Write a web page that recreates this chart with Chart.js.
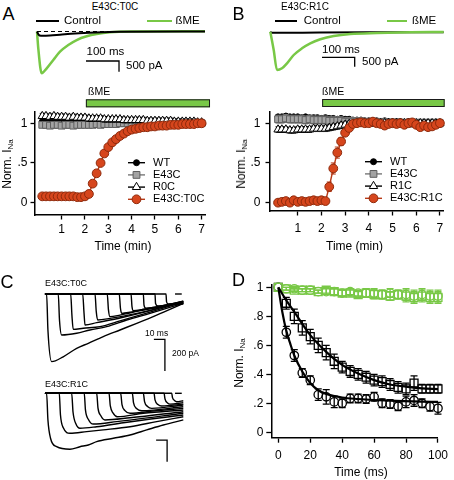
<!DOCTYPE html>
<html>
<head>
<meta charset="utf-8">
<script src="https://cdn.jsdelivr.net/npm/chart.js@4.4.1/dist/chart.umd.min.js"></script>
<style>
html, body { margin: 0; padding: 0; background: #fff; }
body { width: 454px; height: 480px; position: relative; overflow: hidden; font-family: 'Liberation Sans', Arial, Helvetica, sans-serif; color: #000; }
canvas { position: absolute; }
.t { position: absolute; white-space: nowrap; line-height: 1; font-size: 12px; }
.c { transform: translate(-50%, -50%); }
.l { transform: translateY(-50%); }
.yt { transform: translate(-50%, -50%) rotate(-90deg); }
.big { font-size: 18px; }
sub { font-size: 8px; vertical-align: -2px; line-height: 0; }
.ln { position: absolute; height: 2.4px; }
</style>
</head>
<body>
<canvas id="trA" width="180" height="60" style="left:30px;top:22px"></canvas>
<canvas id="trB" width="190" height="60" style="left:262px;top:22px"></canvas>
<canvas id="courseA" width="227" height="175" style="left:0;top:80px"></canvas>
<canvas id="courseB" width="227" height="175" style="left:227px;top:80px"></canvas>
<canvas id="sweepsT0C" width="150" height="90" style="left:40px;top:285px"></canvas>
<canvas id="sweepsR1C" width="150" height="85" style="left:40px;top:385px"></canvas>
<canvas id="decay" width="227" height="215" style="left:227px;top:265px"></canvas>

<!-- panel A, top -->
<div class="t c big" style="left:8.5px;top:13.5px">A</div>
<div class="t c" style="left:115px;top:7px;font-size:10px">E43C:T0C</div>
<div class="ln" style="left:36px;top:19.5px;width:23px;background:#000"></div>
<div class="t l" style="left:64px;top:20.5px;font-size:11.5px">Control</div>
<div class="ln" style="left:147px;top:19.5px;width:25px;background:#78c846"></div>
<div class="t l" style="left:175.5px;top:20.5px;font-size:11.5px">ßME</div>
<div class="t l" style="left:86.5px;top:51.7px;font-size:11.5px">100 ms</div>
<div class="t l" style="left:126px;top:65.5px;font-size:11.5px">500 pA</div>
<div class="t l" style="left:88px;top:91px;font-size:10.5px">ßME</div>
<div class="t yt" style="left:7px;top:164px">Norm. I<sub>Na</sub></div>
<div class="t c" style="left:123px;top:246px">Time (min)</div>

<!-- panel B, top -->
<div class="t c big" style="left:238.5px;top:13.5px">B</div>
<div class="t c" style="left:305px;top:7px;font-size:10px">E43C:R1C</div>
<div class="ln" style="left:275px;top:19.5px;width:22px;background:#000"></div>
<div class="t l" style="left:303.7px;top:20.5px;font-size:11.5px">Control</div>
<div class="ln" style="left:387px;top:19.5px;width:20px;background:#78c846"></div>
<div class="t l" style="left:412px;top:20.5px;font-size:11.5px">ßME</div>
<div class="t l" style="left:322px;top:50px;font-size:11.5px">100 ms</div>
<div class="t l" style="left:362px;top:61.7px;font-size:11.5px">500 pA</div>
<div class="t l" style="left:322px;top:91px;font-size:10.5px">ßME</div>
<div class="t yt" style="left:241px;top:164px">Norm. I<sub>Na</sub></div>
<div class="t c" style="left:354.5px;top:246px">Time (min)</div>

<!-- panel C -->
<div class="t c big" style="left:7px;top:282px">C</div>
<div class="t l" style="left:45px;top:282.5px;font-size:9px">E43C:T0C</div>
<div class="t l" style="left:45px;top:383.5px;font-size:9px">E43C:R1C</div>
<div class="t l" style="left:145px;top:332.5px;font-size:8.5px">10 ms</div>
<div class="t l" style="left:172px;top:352.5px;font-size:8.5px">200 pA</div>

<!-- panel D -->
<div class="t c big" style="left:238.5px;top:280px">D</div>
<div class="t yt" style="left:239px;top:363px">Norm. I<sub>Na</sub></div>
<div class="t c" style="left:361px;top:471.7px">Time (ms)</div>

<script>
// ---- top traces (ms, pA) ----
const ctrlA_t = [0, 4.5, 12.1, 39.4, 69.7, 115, 176, 251.5, 509];
const ctrlA_i = [0, -140, -196, -187, -149, -93, -47, -14, 0];
const bmeA_t = [0, 3.9, 14.2, 29.4, 49.4, 69.7, 94.8, 120.3, 150.6, 180.9, 221.2, 281.8, 509];
const bmeA_i = [0, -785, -1952, -1719, -1331, -943, -630, -397, -224, -117, -37, 0, 10];
const zeroA_t = [0, 509];
const barA_t = [148.5, 248.5, 248.5];
const barA_i = [-1378, -1378, -1878];

const ctrlB_t = [0, 3, 20, 150, 300, 530];
const ctrlB_i = [0, -60, -60, -45, -35, -25];
const bmeB_t = [0, 10.4, 20.5, 35.8, 51.1, 71.6, 96.9, 122.3, 152.9, 193.9, 244.6, 326.3, 428.1, 530.3];
const bmeB_i = [0, -970, -2030, -1940, -1675, -1235, -880, -615, -403, -228, -122, -69, -32, -16];
const barB_t = [158.1, 258.1, 258.1];
const barB_i = [-1357, -1357, -1857];

// ---- time courses (min, normalized INa), one sweep every 10 s ----
const sweepTimes = [0.17, 0.33, 0.5, 0.67, 0.83, 1, 1.17, 1.33, 1.5, 1.67, 1.83, 2, 2.17, 2.33, 2.5, 2.67, 2.83, 3, 3.17, 3.33, 3.5, 3.67, 3.83, 4, 4.17, 4.33, 4.5, 4.67, 4.83, 5, 5.17, 5.33, 5.5, 5.67, 5.83, 6, 6.17, 6.33, 6.5, 6.67, 6.83, 7];
const minuteTicks = [1, 2, 3, 4, 5, 6, 7];
const minuteLabels = ['1', '2', '3', '4', '5', '6', '7'];
const normTicks = [0, 0.5, 1];
const normLabels = ['0', '.5', '1'];

const wtA = [1.02, 1.02, 1.03, 1.02, 1.02, 1.03, 1.02, 1.02, 1.01, 1.02, 1.01, 1.02, 1.02, 1.01, 1.01, 1.01, 1.0, 1.0, 1.01, 1.0, 1.0, 1.0, 1.0, 1.0, 1.0, 1.0, 1.0, 1.0, 1.0, 1.0, 1.0, 1.0, 1.0, 1.0, 1.0, 1.0, 1.0, 1.0, 1.0, 1.0, 1.0, 1.0];
const e43cA = [0.98, 0.98, 0.97, 0.98, 0.98, 0.97, 0.98, 0.98, 0.97, 0.98, 0.98, 0.98, 0.98, 0.98, 0.99, 0.98, 0.99, 0.99, 0.99, 0.99, 1.0, 1.0, 1.0, 1.0, 1.0, 1.0, 1.0, 1.0, 1.0, 1.0, 1.0, 1.0, 1.0, 1.0, 1.0, 1.0, 1.0, 1.0, 1.0, 1.0, 1.0, 1.0];
const r0cA = [1.09, 1.09, 1.08, 1.09, 1.08, 1.08, 1.08, 1.07, 1.08, 1.07, 1.07, 1.07, 1.06, 1.06, 1.06, 1.06, 1.05, 1.05, 1.05, 1.05, 1.05, 1.04, 1.04, 1.04, 1.04, 1.04, 1.04, 1.03, 1.03, 1.03, 1.03, 1.03, 1.03, 1.03, 1.02, 1.02, 1.02, 1.02, 1.02, 1.02, 1.01, 1.01];
const t0cA = [0.08, 0.08, 0.08, 0.08, 0.08, 0.08, 0.08, 0.08, 0.08, 0.07, 0.07, 0.08, 0.11, 0.24, 0.37, 0.5, 0.62, 0.7, 0.76, 0.8, 0.84, 0.87, 0.9, 0.92, 0.93, 0.94, 0.95, 0.95, 0.96, 0.96, 0.97, 0.97, 0.97, 0.98, 0.98, 0.98, 0.99, 0.99, 0.99, 0.99, 1.0, 1.0];

const wtB = [1.08, 1.08, 1.09, 1.08, 1.08, 1.08, 1.07, 1.08, 1.07, 1.07, 1.07, 1.06, 1.07, 1.06, 1.06, 1.05, 1.06, 1.05, 1.05, 1.04, 1.04, 1.04, 1.03, 1.03, 1.03, 1.03, 1.02, 1.03, 1.02, 1.02, 1.02, 1.02, 1.01, 1.02, 1.01, 1.01, 1.01, 1.01, 1.0, 1.0, 1.0, 1.0];
const e43cB = [1.05, 1.05, 1.06, 1.05, 1.05, 1.05, 1.05, 1.04, 1.05, 1.04, 1.04, 1.04, 1.04, 1.03, 1.03, 1.03, 1.03, 1.02, 1.02, 1.02, 1.02, 1.02, 1.01, 1.01, 1.01, 1.01, 1.01, 1.01, 1.0, 1.0, 1.0, 1.0, 1.0, 1.0, 1.0, 1.0, 1.0, 1.0, 1.0, 1.0, 1.0, 1.0];
const r1cB = [0.92, 0.92, 0.92, 0.91, 0.91, 0.92, 0.92, 0.92, 0.92, 0.93, 0.93, 0.93, 0.93, 0.94, 0.95, 0.96, 0.97, 0.98, 0.99, 0.99, 1.0, 1.0, 1.0, 1.0, 1.0, 1.0, 1.0, 1.0, 1.0, 1.0, 1.0, 1.0, 1.0, 1.0, 1.0, 1.0, 1.0, 1.0, 1.0, 1.0, 1.0, 1.0];
const e43cR1cB = [0.0, 0.01, 0.02, 0.0, 0.03, 0.01, 0.02, 0.01, 0.02, 0.03, 0.02, 0.03, 0.02, 0.2, 0.43, 0.63, 0.77, 0.88, 0.94, 0.99, 1.0, 1.01, 1.0, 1.0, 1.02, 1.0, 0.99, 0.97, 0.99, 1.0, 0.99, 1.0, 0.98, 1.0, 1.01, 0.98, 0.95, 0.97, 0.95, 0.96, 0.98, 1.0];
const e43cR1cSem = [0.02, 0.02, 0.02, 0.02, 0.02, 0.02, 0.02, 0.02, 0.02, 0.02, 0.02, 0.02, 0.02, 0.06, 0.07, 0.07, 0.05, 0.03, 0.02, 0.02, 0.02, 0.02, 0.02, 0.02, 0.02, 0.02, 0.02, 0.02, 0.02, 0.02, 0.02, 0.02, 0.02, 0.02, 0.02, 0.02, 0.02, 0.02, 0.02, 0.02, 0.02, 0.02];
const bmeWindowA = [2.04, 7.36];
const bmeWindowB = [2.03, 7.2];

// ---- panel C sweeps (ms, pA) ----
const t0cSweepT = [
  [0, 1.5, 2.7, 6.1, 16.6, 28.8, 39.4, 53, 68.2, 83.4, 101.5, 125.7],
  [0, 12.1, 13.2, 15.2, 28.8, 40.9, 56.1, 74.3, 95.5, 125.7],
  [0, 23.4, 24.5, 25.7, 34.8, 50, 68.2, 95.5, 125.7],
  [0, 34.3, 35.5, 36.4, 47, 69.1, 95.5, 125.7],
  [0, 45.5, 46.6, 47.9, 59.1, 77.7, 100, 125.7],
  [0, 56.6, 57.7, 59.1, 68.2, 83.6, 104.5, 125.7],
  [0, 67.5, 68.6, 69.7, 77.3, 90.9, 109.1, 125.7],
  [0, 78.2, 79.1, 80.3, 89.1, 102.7, 125.7],
  [0, 89.4, 90, 91.8, 99.1, 109.1, 125.7],
  [0, 100, 100.5, 102.5, 109.1, 125.7],
  [0, 110, 110.5, 112.1, 118.2, 125.7]
];
const t0cSweepI = [
  [0, 0, -227, -427, -396, -343, -311, -269, -227, -185, -133, -59],
  [0, 0, -164, -259, -248, -227, -206, -164, -122, -59],
  [0, 0, -133, -223, -216, -206, -170, -114, -50],
  [0, 0, -120, -196, -181, -150, -105, -45],
  [0, 0, -110, -164, -154, -130, -95, -50],
  [0, 0, -100, -143, -133, -110, -80, -45],
  [0, 0, -90, -122, -115, -95, -70, -48],
  [0, 0, -80, -105, -98, -85, -52],
  [0, 0, -70, -90, -85, -72, -55],
  [0, 0, -60, -76, -72, -62],
  [0, 0, -50, -63, -62, -60]
];
const r1cSweepT = [
  [0, 1.5, 2.7, 5, 10.6, 22.7, 31.8, 39.4, 47, 62.1, 77.3, 92.5, 107.5, 125.7],
  [0, 13, 14.1, 16.8, 22.7, 37.9, 53, 77.3, 101.5, 125.7],
  [0, 24.3, 25.5, 28.2, 31.8, 47, 71.2, 125.7],
  [0, 35.7, 36.8, 39.5, 43.9, 65.2, 125.7],
  [0, 47, 48.2, 50.9, 54.5, 77.3, 125.7],
  [0, 58.2, 59.4, 61.8, 65.7, 89.4, 125.7],
  [0, 68.8, 70, 72.7, 77.3, 98.5, 125.7],
  [0, 79.4, 80.5, 83.2, 87.9, 125.7],
  [0, 89.4, 90.5, 93.2, 97, 125.7],
  [0, 99.1, 100, 102.7, 106.1, 125.7],
  [0, 108.2, 109.1, 111.4, 113.6, 125.7],
  [0, 115.2, 115.9, 117.7, 119.7, 125.7]
];
const r1cSweepI = [
  [0, 0, -168, -282, -337, -353, -337, -326, -305, -284, -263, -231, -200, -168],
  [0, 0, -137, -219, -252, -242, -231, -211, -179, -148],
  [0, 0, -118, -194, -221, -211, -186, -137],
  [0, 0, -105, -165, -194, -179, -126],
  [0, 0, -93, -143, -168, -154, -116],
  [0, 0, -80, -124, -148, -126, -105],
  [0, 0, -71, -109, -126, -112, -95],
  [0, 0, -61, -96, -110, -85],
  [0, 0, -52, -83, -95, -74],
  [0, 0, -42, -71, -80, -68],
  [0, 0, -36, -61, -68, -59],
  [0, 0, -27, -45, -53, -47]
];
const zeroMarkT = [118.2, 124.3];
const barC1_t = [99, 109, 109];
const barC1_i = [-286, -286, -486];
const barC2_t = [101, 111, 111];
const barC2_i = [-295, -295, -432];

// ---- panel D (ms, normalized INa) ----
const dTimes = [0, 5, 10, 15, 20, 25, 30, 35, 40, 45, 50, 55, 60, 65, 70, 75, 80, 85, 90, 95, 100];
const ctlT0C = [1.0, 0.99, 0.99, 0.98, 0.98, 0.97, 0.97, 0.97, 0.96, 0.97, 0.96, 0.96, 0.96, 0.95, 0.96, 0.95, 0.95, 0.94, 0.95, 0.94, 0.94];
const ctlR1C = [1.0, 0.99, 0.98, 0.98, 0.98, 0.97, 0.98, 0.97, 0.96, 0.96, 0.95, 0.96, 0.95, 0.95, 0.94, 0.95, 0.94, 0.93, 0.94, 0.93, 0.93];
const ctlSem = [0, 0.01, 0.01, 0.01, 0.01, 0.01, 0.02, 0.02, 0.02, 0.02, 0.02, 0.03, 0.03, 0.03, 0.03, 0.03, 0.04, 0.04, 0.04, 0.04, 0.04];
const bmeT0C = [1.0, 0.69, 0.53, 0.41, 0.36, 0.26, 0.245, 0.21, 0.2, 0.234, 0.234, 0.23, 0.245, 0.2, 0.195, 0.18, 0.21, 0.22, 0.2, 0.177, 0.166];
const bmeT0CSem = [0, 0.04, 0.04, 0.03, 0.03, 0.04, 0.05, 0.04, 0.03, 0.03, 0.03, 0.03, 0.03, 0.03, 0.03, 0.03, 0.04, 0.04, 0.03, 0.03, 0.04];
const bmeR1C = [1.0, 0.89, 0.8, 0.72, 0.66, 0.6, 0.55, 0.49, 0.45, 0.42, 0.4, 0.38, 0.36, 0.35, 0.33, 0.31, 0.3, 0.34, 0.3, 0.3, 0.3];
const bmeR1CSem = [0, 0.04, 0.05, 0.05, 0.05, 0.05, 0.05, 0.05, 0.04, 0.04, 0.04, 0.04, 0.04, 0.04, 0.04, 0.04, 0.04, 0.05, 0.03, 0.03, 0.03];
const fitT0C_t = [0, 2.5, 5, 7.5, 10, 15, 20, 25, 30, 40, 50, 70, 100];
const fitT0C_y = [1.0, 0.83, 0.7, 0.61, 0.53, 0.42, 0.34, 0.29, 0.265, 0.24, 0.23, 0.218, 0.21];
const fitR1C_t = [0, 5, 10, 20, 30, 40, 50, 60, 70, 80, 90, 100];
const fitR1C_y = [1.0, 0.91, 0.83, 0.67, 0.555, 0.465, 0.405, 0.36, 0.33, 0.315, 0.303, 0.298];
const msTicks = [0, 20, 40, 60, 80, 100];
const msLabels = ['0', '20', '40', '60', '80', '100'];
const fracTicks = [0, 0.2, 0.4, 0.6, 0.8, 1];
const fracLabels = ['0', '.2', '.4', '.6', '.8', '1'];

const fontStack = "'Liberation Sans', Arial, Helvetica, sans-serif";
const GREEN = '#78c846';
Chart.defaults.font.family = fontStack;
Chart.defaults.color = '#000';

function pts(xs, ys) {
    return xs.map((x, i) => ({ x, y: ys[i] }));
}

// vertical SEM bars, drawn just under each dataset's own markers
const errorBars = {
    id: 'errorBars',
    beforeDatasetDraw(chart, args) {
        const ds = chart.data.datasets[args.index];
        if (ds.sem === undefined) return;
        const ctx = chart.ctx, y = chart.scales.y;
        const w = ds.capHalf || 2.5;
        ctx.save();
        ctx.strokeStyle = ds.semColor || ds.borderColor;
        ctx.lineWidth = ds.semWidth || 1;
        args.meta.data.forEach((el, i) => {
            const e = Array.isArray(ds.sem) ? ds.sem[i] : ds.sem;
            if (!e) return;
            const v = ds.data[i].y;
            const y0 = y.getPixelForValue(v + e), y1 = y.getPixelForValue(v - e);
            ctx.beginPath();
            ctx.moveTo(el.x, y0); ctx.lineTo(el.x, y1);
            ctx.moveTo(el.x - w, y0); ctx.lineTo(el.x + w, y0);
            ctx.moveTo(el.x - w, y1); ctx.lineTo(el.x + w, y1);
            ctx.stroke();
        });
        ctx.restore();
    }
};

function marker(ctx, style, r, x, y) {
    ctx.beginPath();
    if (style === 'rect') {
        ctx.rect(x - r * 0.71, y - r * 0.71, r * 1.42, r * 1.42);
    } else if (style === 'triangle') {
        ctx.moveTo(x, y - r);
        ctx.lineTo(x + r * 0.87, y + r * 0.5);
        ctx.lineTo(x - r * 0.87, y + r * 0.5);
        ctx.closePath();
    } else {
        ctx.arc(x, y, r, 0, Math.PI * 2);
    }
    ctx.fill();
    ctx.stroke();
}

// legend inside the plot: line + marker + name
const innerLegend = {
    id: 'innerLegend',
    afterDraw(chart, args, o) {
        if (!o || o.x === undefined) return;
        const ctx = chart.ctx;
        ctx.save();
        ctx.font = '11px ' + fontStack;
        ctx.textBaseline = 'middle';
        chart.data.datasets.forEach((ds, i) => {
            const y = o.y + i * o.dy;
            ctx.strokeStyle = ds.borderColor;
            ctx.lineWidth = ds.borderWidth;
            ctx.beginPath(); ctx.moveTo(o.x, y); ctx.lineTo(o.x + o.len, y); ctx.stroke();
            ctx.fillStyle = ds.pointBackgroundColor;
            ctx.strokeStyle = ds.pointBorderColor;
            ctx.lineWidth = ds.pointBorderWidth;
            marker(ctx, ds.pointStyle, ds.pointRadius, o.x + o.len / 2, y);
            ctx.fillStyle = '#000';
            ctx.fillText(ds.label, o.x + o.len + o.gap, y);
        });
        ctx.restore();
    }
};

// green bar showing when ßME was applied
const drugBar = {
    id: 'drugBar',
    afterDraw(chart, args, o) {
        if (!o || o.from === undefined) return;
        const x = chart.scales.x, ctx = chart.ctx;
        const x0 = x.getPixelForValue(o.from), x1 = x.getPixelForValue(o.to);
        ctx.save();
        ctx.fillStyle = GREEN;
        ctx.fillRect(x0, o.top, x1 - x0, o.height);
        ctx.strokeStyle = '#1a1a1a';
        ctx.lineWidth = 1;
        ctx.strokeRect(x0 + 0.5, o.top + 0.5, x1 - x0 - 1, o.height - 1);
        ctx.restore();
    }
};

function traceChart(id, xRange, yRange, datasets) {
    return new Chart(document.getElementById(id), {
        type: 'line',
        data: { datasets },
        options: {
            responsive: false, animation: false, events: [],
            layout: { padding: 0 },
            plugins: { legend: { display: false }, tooltip: { enabled: false } },
            elements: { point: { radius: 0 } },
            scales: {
                x: { type: 'linear', display: false, min: xRange[0], max: xRange[1] },
                y: { type: 'linear', display: false, min: yRange[0], max: yRange[1] }
            }
        }
    });
}

function sweep(xs, ys, color, width, extra) {
    return Object.assign({ data: pts(xs, ys), borderColor: color, borderWidth: width, pointRadius: 0, cubicInterpolationMode: 'monotone' }, extra || {});
}
function bar(xs, ys) {
    return { data: pts(xs, ys), borderColor: '#000', borderWidth: 1.3, pointRadius: 0, tension: 0 };
}

function axisChart(id, datasets, c, plugins, pluginOpts) {
    const axis = (ticks, labels, fit, pad) => ({
        type: 'linear',
        afterBuildTicks: s => { s.ticks = ticks.map(v => ({ value: v })); },
        afterFit: fit,
        grid: { drawOnChartArea: false, color: '#000', tickColor: '#000', tickLength: c.tickLen, tickWidth: 1.3 },
        border: { color: '#000', width: 1.5 },
        ticks: { autoSkip: false, maxRotation: 0, color: '#000', font: { size: 12 }, padding: pad, callback: (v, i) => labels[i] }
    });
    return new Chart(document.getElementById(id), {
        type: 'line',
        data: { datasets },
        plugins,
        options: {
            responsive: false, animation: false, events: [],
            layout: { padding: c.padding },
            plugins: Object.assign({ legend: { display: false }, tooltip: { enabled: false } }, pluginOpts),
            scales: {
                x: Object.assign(axis(c.xTicks, c.xLabels, s => { s.height = c.xH; }, c.xPad), { min: c.x[0], max: c.x[1] }),
                y: Object.assign(axis(c.yTicks, c.yLabels, s => { s.width = c.yW; }, c.yPad), { min: c.y[0], max: c.y[1] })
            }
        }
    });
}

// ---- A / B top: example currents ----
traceChart('trA', [-21.2, 524.2], [-2358, 443.7], [
    sweep(zeroA_t, [0, 0], '#000', 1.2, { borderDash: [4, 3] }),
    sweep(ctrlA_t, ctrlA_i, '#000', 2),
    sweep(bmeA_t, bmeA_i, GREEN, 2.5),
    bar(barA_t, barA_i)
]);
traceChart('trB', [-25.4, 555.7], [-2666, 514], [
    sweep(bmeB_t, bmeB_i, GREEN, 2.5),
    sweep(ctrlB_t, ctrlB_i, '#000', 2),
    bar(barB_t, barB_i)
]);

// ---- A / B bottom: time courses ----
const wtStyle = { borderColor: '#000', pointBackgroundColor: '#000', pointBorderColor: '#000', pointStyle: 'circle', pointRadius: 3, order: 3 };
const e43cStyle = { borderColor: '#777', pointBackgroundColor: '#a3a3a3', pointBorderColor: '#5e5e5e', pointStyle: 'rect', pointRadius: 4.8, order: 2, semColor: '#8a8a8a' };
const triStyle = { borderColor: '#000', pointBackgroundColor: '#fff', pointBorderColor: '#000', pointStyle: 'triangle', pointRadius: 4.8, order: 1 };
const redStyle = { borderColor: '#b83a17', pointBackgroundColor: '#d6461d', pointBorderColor: '#8e2a0c', pointStyle: 'circle', pointRadius: 4.4, order: 0 };

function course(label, ys, sem, style) {
    return Object.assign({ label, data: pts(sweepTimes, ys), sem, borderWidth: 1.4, pointBorderWidth: 1, clip: false }, style);
}

axisChart('courseA', [
    course('WT', wtA, 0.01, wtStyle),
    course('E43C', e43cA, 0.03, e43cStyle),
    course('R0C', r0cA, 0.035, triStyle),
    course('E43C:T0C', t0cA, 0.02, redStyle)
], {
    padding: { top: 32, right: 22, left: 0, bottom: 0 }, tickLen: 4.5,
    x: [-0.141, 7.145], xTicks: minuteTicks, xLabels: minuteLabels, xH: 40, xPad: 3,
    y: [-0.155, 1.142], yTicks: normTicks, yLabels: normLabels, yW: 35, yPad: 3
}, [errorBars, innerLegend, drugBar], {
    innerLegend: { x: 128, y: 82.7, dy: 12.2, len: 17, gap: 8 },
    drugBar: { from: bmeWindowA[0], to: bmeWindowA[1], top: 19.3, height: 8 }
});

axisChart('courseB', [
    course('WT', wtB, 0.01, wtStyle),
    course('E43C', e43cB, 0.05, e43cStyle),
    course('R1C', r1cB, 0.035, triStyle),
    course('E43C:R1C', e43cR1cB, e43cR1cSem, redStyle)
], {
    padding: { top: 32, right: 11, left: 0, bottom: 0 }, tickLen: 4.5,
    x: [-0.17, 7.13], xTicks: minuteTicks, xLabels: minuteLabels, xH: 44, xPad: 6,
    y: [-0.105, 1.141], yTicks: normTicks, yLabels: normLabels, yW: 43, yPad: 5
}, [errorBars, innerLegend, drugBar], {
    innerLegend: { x: 138, y: 81.7, dy: 12.2, len: 17, gap: 8 },
    drugBar: { from: bmeWindowB[0], to: bmeWindowB[1], top: 19, height: 8 }
});

// ---- C: families of sweeps ----
traceChart('sweepsT0C', [-4.5, 131.8], [-511.1, 56.8],
    t0cSweepT.map((t, k) => sweep(t, t0cSweepI[k], '#000', 1.4))
        .concat([sweep(zeroMarkT, [0, 0], '#000', 1.4), bar(barC1_t, barC1_i)]));
traceChart('sweepsR1C', [-4.5, 131.8], [-484, 52.4],
    r1cSweepT.map((t, k) => sweep(t, r1cSweepI[k], '#000', 1.4))
        .concat([sweep(zeroMarkT, [0, 0], '#000', 1.4), bar(barC2_t, barC2_i)]));

// ---- D: decay of INa ----
function dots(ys, sem, color, style, r) {
    return { data: pts(dTimes, ys), sem, semColor: color, semWidth: 1.3, capHalf: 3.5, showLine: false, borderColor: color,
        pointStyle: style, pointRadius: r, pointBorderColor: color, pointBackgroundColor: 'rgba(0,0,0,0)', pointBorderWidth: 1.3, clip: false, order: 2 };
}
axisChart('decay', [
    dots(ctlT0C, ctlSem, GREEN, 'circle', 4.2),
    dots(ctlR1C, ctlSem, GREEN, 'rect', 5.6),
    dots(bmeT0C, bmeT0CSem, '#000', 'circle', 4.2),
    dots(bmeR1C, bmeR1CSem, '#000', 'rect', 5.6),
    sweep(fitT0C_t, fitT0C_y, '#000', 2.2, { order: 0, clip: false }),
    sweep(fitR1C_t, fitR1C_y, '#000', 2.2, { order: 0, clip: false })
], {
    padding: { top: 20, right: 11, left: 0, bottom: 0 }, tickLen: 5,
    x: [-4.4, 100], xTicks: msTicks, xLabels: msLabels, xH: 42.3, xPad: 6,
    y: [-0.037, 1.016], yTicks: fracTicks, yLabels: fracLabels, yW: 44.3, yPad: 3
}, [errorBars], {});
</script>
</body>
</html>
